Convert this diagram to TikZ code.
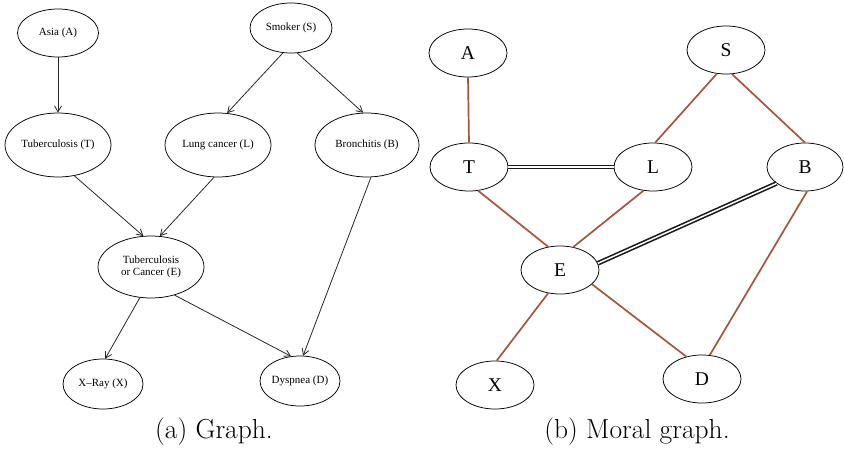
\documentclass[tikz,border=0pt]{standalone}
\usepackage{fontspec}
\setmainfont{Liberation Serif}
\newfontfamily\lmfont{Latin Modern Roman}
\usetikzlibrary{arrows.meta,shapes.geometric}
\definecolor{moral}{RGB}{165,85,58}
\begin{document}
\begin{tikzpicture}[x=1pt,y=-1pt,
  bnode/.style={draw, ellipse, line width=0.75pt, inner sep=0pt, align=center, font=\fontsize{11}{12.5}\selectfont},
  mnode/.style={draw, ellipse, line width=0.75pt, inner sep=0pt, minimum width=78pt, minimum height=48pt, font=\fontsize{19.5}{20}\selectfont},
  arr/.style={-{Straight Barb[length=6pt,width=7pt]}, line width=0.8pt, draw=black!85},
  medge/.style={draw=moral, line width=1.7pt},
  dedge/.style={draw=black!90, double=white, double distance=1.5pt, line width=1.6pt},
  caption/.style={font=\lmfont\fontsize{27.5}{30}\selectfont}
]
\useasboundingbox (0,0) rectangle (844,452);
% (a) Graph
\node[bnode, minimum width=81pt, minimum height=48pt] (a) at (58,33) {Asia (A)};
\node[bnode, minimum width=82pt, minimum height=50pt] (s) at (291,28) {Smoker (S)};
\node[bnode, minimum width=106pt, minimum height=64pt] (t) at (58,145) {Tuberculosis (T)};
\node[bnode, minimum width=106pt, minimum height=64pt] (l) at (218,145) {Lung cancer (L)};
\node[bnode, minimum width=104pt, minimum height=64pt] (b) at (367,145) {Bronchitis (B)};
\node[bnode, minimum width=106pt, minimum height=62pt] (e) at (151,267) {Tuberculosis\\or Cancer (E)};
\node[bnode, minimum width=80pt, minimum height=50pt] (x) at (103,384) {X--Ray (X)};
\node[bnode, minimum width=80pt, minimum height=50pt] (d) at (300,381) {Dyspnea (D)};
\draw[arr] (a.south) -- (t.north);
\draw[arr] (s.252) -- (l.74);
\draw[arr] (s.284) -- (b.97);
\draw[arr] (t.298) -- (e.104);
\draw[arr] (l.263) -- (e.74);
\draw[arr] (b.277) -- (d.83);
\draw[arr] (e.250) -- (x.85);
\draw[arr] (e.310) -- (d.110);
\node[caption] (capa) at (214,432) {(a) Graph.};
% (b) Moral graph
\node[mnode] (ma) at (468,53) {A};
\node[mnode] (ms) at (726,50) {S};
\node[mnode] (mt) at (469,167) {T};
\node[mnode] (ml) at (653,167) {L};
\node[mnode, minimum width=76pt] (mb) at (805,167) {B};
\node[mnode] (me) at (560,270) {E};
\node[mnode] (mx) at (495,385) {X};
\node[mnode] (md) at (702,379) {D};
\draw[medge] (ma.south) -- (mt.north);
\draw[medge] (ms.249) -- (ml.85);
\draw[medge] (ms.284) -- (mb.90);
\draw[medge] (mt.291) -- (me.117);
\draw[medge] (ml.248) -- (me.60);
\draw[medge] (mb.275) -- (md.72);
\draw[medge] (me.243) -- (mx.86);
\draw[medge] (me.336) -- (md.125);
\draw[dedge] (mt.east) -- (ml.west);
\draw[dedge] (me.10) -- (mb.210);
\node[caption] (capb) at (637,432) {(b) Moral graph.};
\end{tikzpicture}
\end{document}
